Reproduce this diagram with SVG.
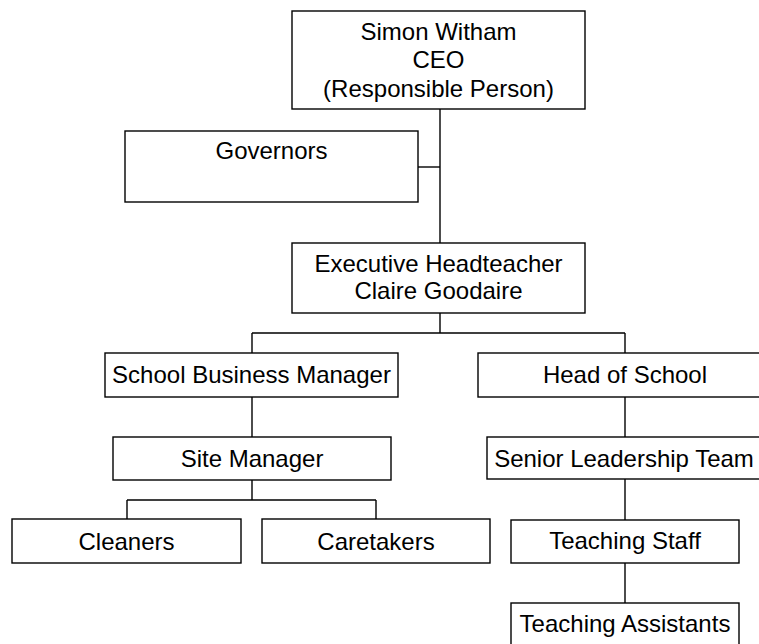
<svg xmlns="http://www.w3.org/2000/svg" width="759" height="644" viewBox="0 0 759 644">
<style>
.box{fill:#fff;stroke:#000;stroke-width:1.4}
.lbl{font-family:"Liberation Sans",Arial,sans-serif;font-size:24px;fill:#000;text-anchor:middle}
.con{fill:none;stroke:#000;stroke-width:1.4}
</style>
<rect width="759" height="644" fill="#fff"/>
<g id="connectors">
<path class="con" d="M440,109 V243"/>
<path class="con" d="M418,167 H440"/>
<path class="con" d="M440,313 V333 M252,333 H625 M252,333 V353 M625,333 V353"/>
<path class="con" d="M252,397 V437"/>
<path class="con" d="M625,397 V437"/>
<path class="con" d="M252,480 V500 M127,500 H376 M127,500 V519 M376,500 V519"/>
<path class="con" d="M625,479 V520"/>
<path class="con" d="M625,563 V603"/>
</g>
<g id="ceo"><rect class="box" x="292" y="11" width="293" height="98"/>
<text class="lbl" x="438.5" y="40">Simon Witham</text>
<text class="lbl" x="438.5" y="68">CEO</text>
<text class="lbl" x="438.5" y="97">(Responsible Person)</text></g>
<g id="governors"><rect class="box" x="125" y="131" width="293" height="71"/>
<text class="lbl" x="271.5" y="159">Governors</text></g>
<g id="exec"><rect class="box" x="292" y="243" width="293" height="70"/>
<text class="lbl" x="438.5" y="272">Executive Headteacher</text>
<text class="lbl" x="438.5" y="299">Claire Goodaire</text></g>
<g id="sbm"><rect class="box" x="105" y="353" width="293" height="44"/>
<text class="lbl" x="251.5" y="383">School Business Manager</text></g>
<g id="hos"><rect class="box" x="478" y="353" width="294" height="44"/>
<text class="lbl" x="625" y="383">Head of School</text></g>
<g id="site"><rect class="box" x="113" y="437" width="278" height="43"/>
<text class="lbl" x="252" y="467">Site Manager</text></g>
<g id="slt"><rect class="box" x="487" y="437" width="276" height="42"/>
<text class="lbl" x="624" y="467">Senior Leadership Team</text></g>
<g id="cleaners"><rect class="box" x="12" y="519" width="229" height="44"/>
<text class="lbl" x="126.5" y="550">Cleaners</text></g>
<g id="caretakers"><rect class="box" x="262" y="519" width="228" height="44"/>
<text class="lbl" x="376" y="550">Caretakers</text></g>
<g id="teaching"><rect class="box" x="511" y="520" width="228" height="43"/>
<text class="lbl" x="625" y="549">Teaching Staff</text></g>
<g id="ta"><rect class="box" x="511" y="603" width="228" height="44"/>
<text class="lbl" x="625" y="632">Teaching Assistants</text></g>
</svg>
